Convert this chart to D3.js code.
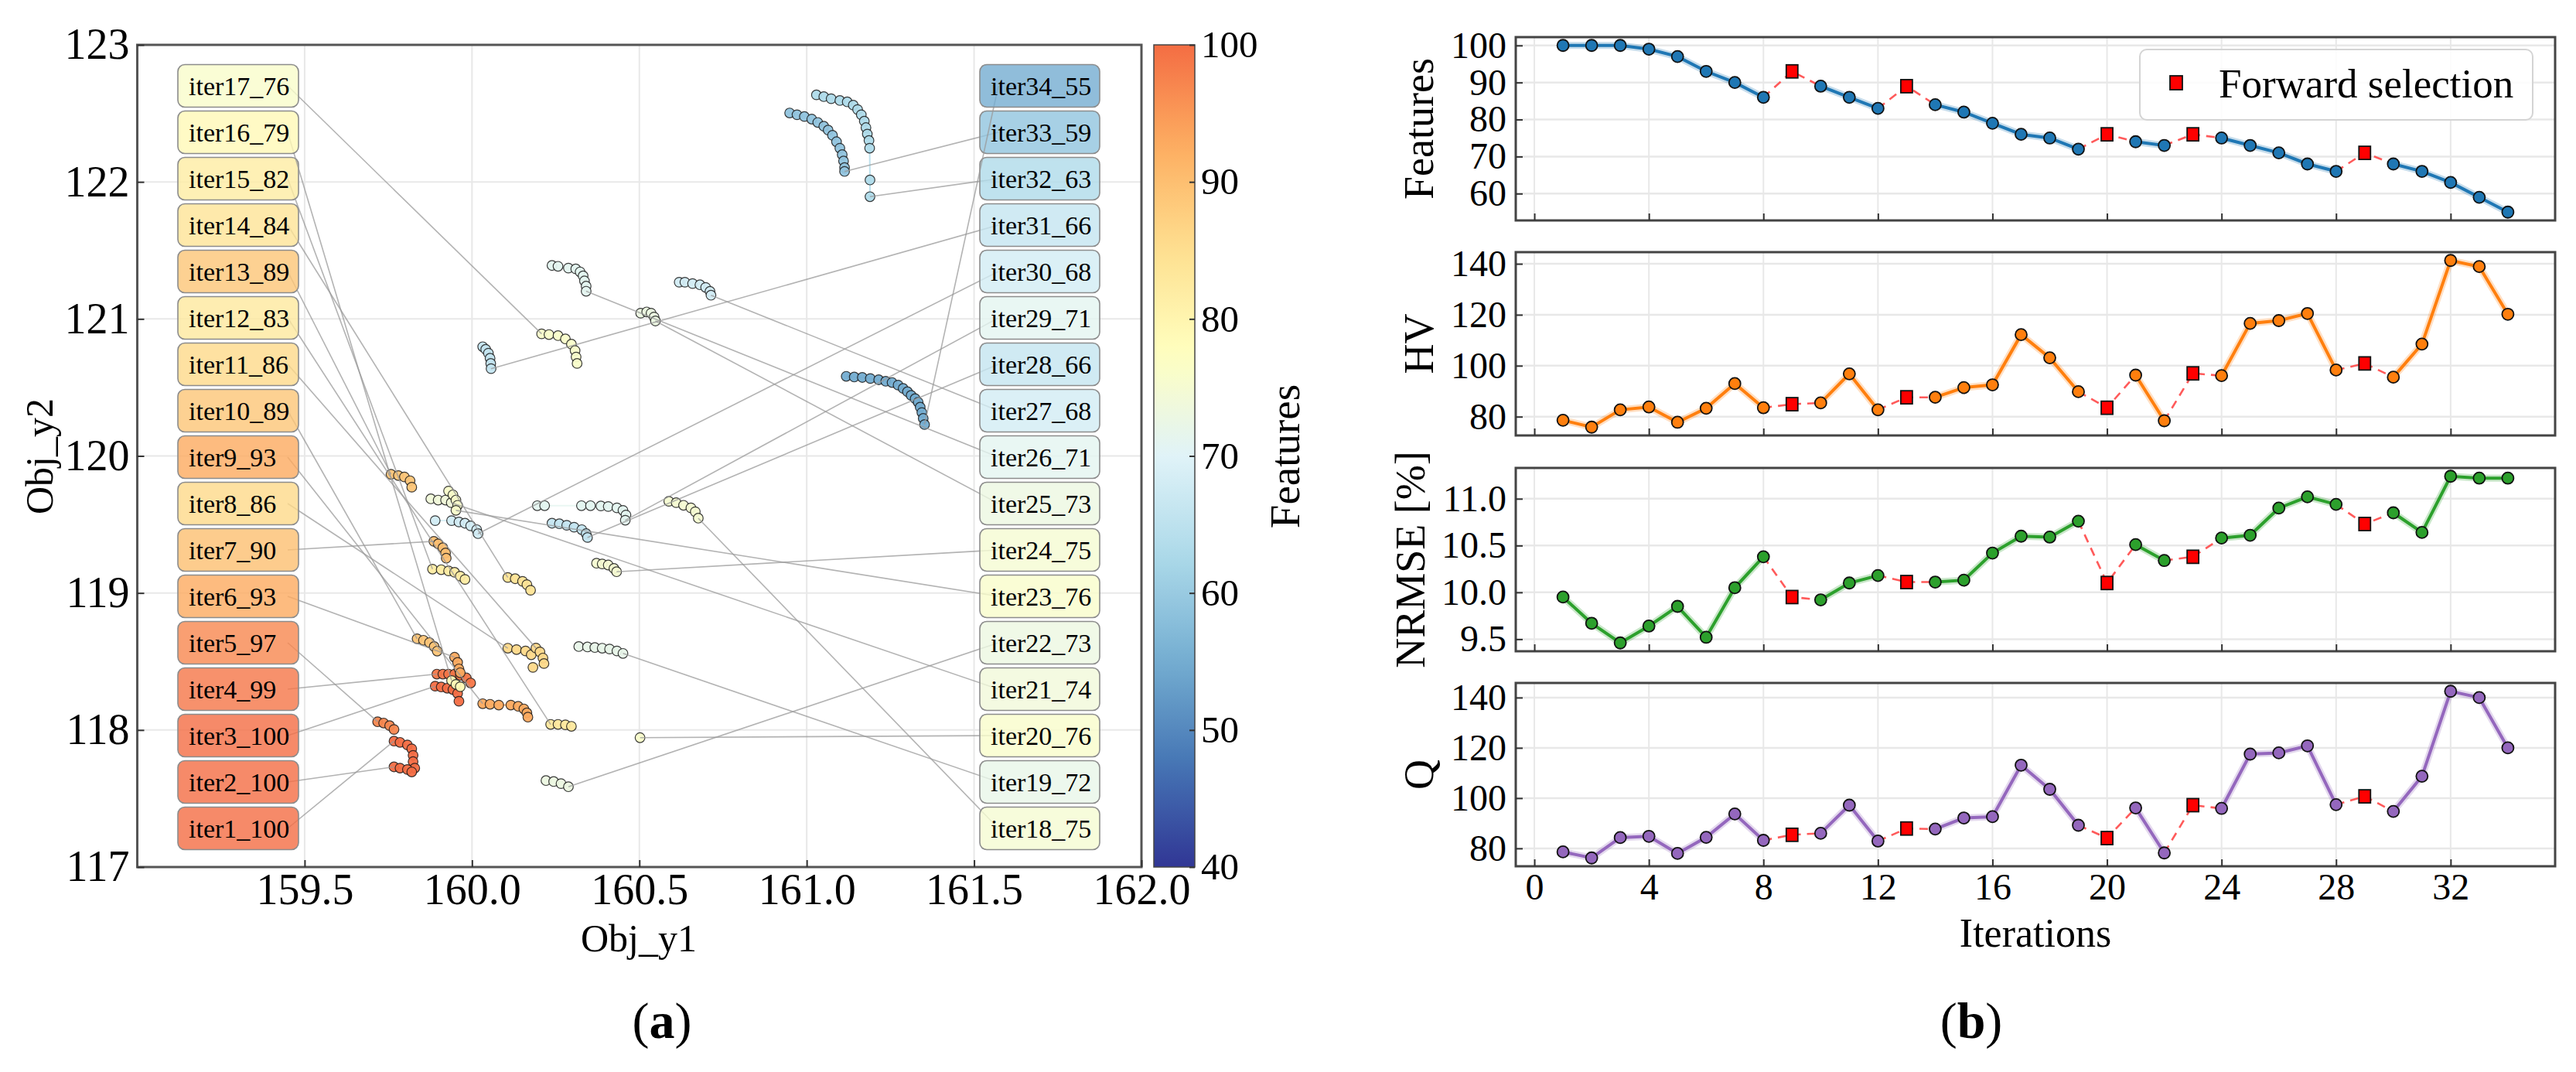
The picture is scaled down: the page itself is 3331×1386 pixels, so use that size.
<!DOCTYPE html>
<html>
<head>
<meta charset="utf-8">
<title>Pareto fronts and selection metrics per iteration</title>
<script src="https://cdn.jsdelivr.net/npm/d3@7"></script>
<style>
  body { margin: 0; background: #fff; }
  text { font-family: "Liberation Serif", "Times New Roman", serif; }
</style>
</head>
<body>
<svg id="chart" width="3331" height="1386"></svg>
<script>
// ---------- data ----------
const iterNo = [1,2,3,4,5,6,7,8,9,10,11,12,13,14,15,16,17,18,19,20,21,22,23,24,25,26,27,28,29,30,31,32,33,34];
const featureCount = [100,100,100,99,97,93,90,86,93,89,86,83,89,84,82,79,76,75,72,76,74,73,76,75,73,71,68,66,71,68,66,63,59,55];
const forwardIters = [9,13,20,23,29];
const hvValues = [78.6,75.9,82.7,83.8,77.8,83.3,93.0,83.5,84.9,85.4,96.8,82.7,87.6,87.6,91.4,92.5,112.2,103.1,89.8,83.5,96.3,78.4,97.0,96.1,116.6,117.7,120.5,98.3,100.9,95.5,108.5,141.3,138.9,120.2];
const nrmseValues = [9.95,9.67,9.46,9.64,9.85,9.52,10.05,10.38,9.95,9.92,10.10,10.18,10.11,10.11,10.13,10.42,10.60,10.59,10.76,10.10,10.51,10.34,10.38,10.58,10.61,10.90,11.02,10.94,10.73,10.85,10.64,11.24,11.22,11.22];
const qValues = [78.6,76.2,84.3,84.8,78.0,84.4,93.7,83.2,85.4,86.0,97.2,82.9,87.9,87.7,92.1,92.6,113.1,103.5,89.2,84.1,96.1,78.2,97.2,95.9,117.5,118.0,120.8,97.4,100.7,94.7,108.7,142.5,140.0,120.0];

// pareto front of each iteration: [Obj_y1, Obj_y2]
const front01 = [[159.767,117.919],[159.785,117.910],[159.807,117.891],[159.820,117.863],[159.824,117.815],[159.824,117.769],[159.829,117.722]];
const front02 = [[159.767,117.731],[159.785,117.722],[159.807,117.712],[159.820,117.694]];
const front03 = [[159.890,118.320],[159.908,118.314],[159.926,118.305],[159.943,118.295],[159.957,118.267],[159.961,118.210]];
const front04 = [[159.895,118.408],[159.913,118.408],[159.930,118.408],[159.948,118.408],[159.965,118.399],[159.983,118.380],[159.996,118.343]];
const front05 = [[159.718,118.060],[159.736,118.051],[159.754,118.032],[159.767,118.004]];
const front06 = [[159.948,118.531],[159.957,118.493],[159.961,118.446],[159.965,118.418]];
const front07 = [[159.886,119.377],[159.899,119.358],[159.913,119.330],[159.921,119.292],[159.923,119.254]];
const front08 = [[160.107,118.597],[160.133,118.587],[160.160,118.577],[160.177,118.549]];
const front09 = [[160.032,118.192],[160.054,118.188],[160.080,118.182],[160.116,118.182],[160.138,118.173],[160.155,118.154],[160.164,118.125],[160.167,118.094]];
const front10 = [[159.836,118.666],[159.855,118.655],[159.873,118.638],[159.887,118.609],[159.896,118.576]];
const front11 = [[160.191,118.598],[160.203,118.570],[160.212,118.525],[160.215,118.485],[160.182,118.457]];
const front12 = [[160.235,118.041],[160.257,118.041],[160.279,118.038],[160.297,118.027]];
const front13 = [[159.758,119.866],[159.780,119.857],[159.798,119.847],[159.815,119.819],[159.820,119.772]];
const front14 = [[160.107,119.113],[160.129,119.104],[160.151,119.085],[160.164,119.061],[160.175,119.020]];
const front15 = [[159.882,119.174],[159.908,119.170],[159.930,119.161],[159.948,119.151],[159.965,119.123],[159.979,119.099]];
const front16 = [[159.939,118.361],[159.952,118.333],[159.965,118.316]];
const front17 = [[160.208,120.891],[160.230,120.886],[160.257,120.878],[160.279,120.854],[160.297,120.816],[160.308,120.769],[160.311,120.722],[160.314,120.675]];
const front18 = [[160.588,119.669],[160.610,119.659],[160.632,119.640],[160.654,119.621],[160.667,119.593],[160.676,119.546]];
const front19 = [[160.319,118.609],[160.345,118.606],[160.367,118.602],[160.389,118.597],[160.411,118.591],[160.433,118.577],[160.451,118.559]];
const front20 = [[160.502,117.944]];
const front21 = [[159.877,119.687],[159.899,119.678],[159.921,119.678],[159.938,119.659]];
const front22 = [[160.221,117.631],[160.244,117.624],[160.266,117.609],[160.288,117.586]];
const front23 = [[159.930,119.744],[159.943,119.716],[159.952,119.678],[159.957,119.640],[159.952,119.603]];
const front24 = [[160.372,119.217],[160.389,119.212],[160.407,119.204],[160.424,119.179],[160.432,119.155]];
const front25 = [[160.504,121.042],[160.522,121.051],[160.535,121.042],[160.544,121.014],[160.548,120.985]];
const front26 = [[160.239,121.390],[160.257,121.384],[160.288,121.371],[160.310,121.365],[160.323,121.343],[160.332,121.314],[160.336,121.277],[160.341,121.239],[160.341,121.202]];
const front27 = [[160.619,121.268],[160.636,121.268],[160.659,121.258],[160.681,121.249],[160.698,121.230],[160.711,121.201],[160.714,121.173]];
const front28 = [[160.239,119.509],[160.261,119.505],[160.283,119.494],[160.305,119.480],[160.328,119.462],[160.341,119.433],[160.345,119.405]];
const front29 = [[160.195,119.637],[160.217,119.637],[160.327,119.637],[160.354,119.637],[160.385,119.635],[160.407,119.631],[160.433,119.621],[160.451,119.603],[160.460,119.569],[160.458,119.531]];
const front30 = [[159.890,119.528],[159.939,119.528],[159.961,119.518],[159.979,119.509],[159.996,119.490],[160.014,119.462],[160.018,119.433]];
const front31 = [[160.032,120.797],[160.041,120.778],[160.049,120.750],[160.054,120.713],[160.056,120.675],[160.057,120.637]];
const front32 = [[161.029,122.635],[161.051,122.622],[161.073,122.607],[161.099,122.594],[161.121,122.584],[161.139,122.560],[161.152,122.528],[161.163,122.490],[161.172,122.443],[161.177,122.396],[161.181,122.349],[161.186,122.302],[161.188,122.246],[161.189,122.014],[161.189,121.892]];
const front33 = [[160.949,122.503],[160.971,122.490],[160.993,122.477],[161.015,122.458],[161.033,122.434],[161.051,122.406],[161.064,122.378],[161.077,122.340],[161.089,122.293],[161.099,122.246],[161.106,122.199],[161.110,122.152],[161.113,122.104],[161.113,122.076]];
const front34 = [[161.118,120.581],[161.142,120.576],[161.166,120.573],[161.190,120.565],[161.215,120.556],[161.236,120.545],[161.255,120.536],[161.273,120.517],[161.288,120.493],[161.301,120.469],[161.312,120.442],[161.324,120.418],[161.333,120.392],[161.339,120.356],[161.344,120.317],[161.348,120.274],[161.352,120.229]];

const obj1Ticks = [159.5,160.0,160.5,161.0,161.5,162.0];
const obj2Ticks = [117,118,119,120,121,122,123];
const cbarTicks = [40,50,60,70,80,90,100];
const iterTicks = [0,4,8,12,16,20,24,28,32];
const featTicks = [60,70,80,90,100];
const hvTicks = [80,100,120,140];
const nrmseTicks = [9.5,10.0,10.5,11.0];
const qTicks = [80,100,120,140];

const fronts = [front01,front02,front03,front04,front05,front06,front07,front08,front09,front10,front11,front12,
  front13,front14,front15,front16,front17,front18,front19,front20,front21,front22,front23,front24,front25,
  front26,front27,front28,front29,front30,front31,front32,front33,front34];

// ---------- helpers ----------
const FONT = '"Liberation Serif", "Times New Roman", serif';
const svg = d3.select('#chart');

// RdYlBu reversed, using the part from 0 to 0.8
const cmapColors = ['#313695','#4575b4','#74add1','#abd9e9','#e0f3f8','#ffffbf','#fee090','#fdae61','#f46d43'];
const featColor = d3.scaleLinear()
  .domain(cmapColors.map((c, i) => 40 + i * 60 / (cmapColors.length - 1)))
  .range(cmapColors)
  .interpolate(d3.interpolateRgb)
  .clamp(true);

function styleAxis(g, size) {
  g.attr('font-family', FONT).attr('font-size', size);
  g.select('.domain').remove();
  g.selectAll('.tick line').attr('stroke', '#333').attr('stroke-width', 2);
  g.selectAll('.tick text').attr('fill', '#000');
}

// ================= (a) scatter of fronts =================
const xL = d3.scaleLinear().domain([159, 162]).range([177.5, 1476]);
const yL = d3.scaleLinear().domain([117, 123]).range([1121, 58]);
const gA = svg.append('g');

gA.selectAll('.vgrid').data(obj1Ticks).join('line')
  .attr('x1', d => xL(d)).attr('x2', d => xL(d))
  .attr('y1', yL.range()[0]).attr('y2', yL.range()[1])
  .attr('stroke', '#e8e8e8').attr('stroke-width', 2);
gA.selectAll('.hgrid').data(obj2Ticks).join('line')
  .attr('x1', xL.range()[0]).attr('x2', xL.range()[1])
  .attr('y1', d => yL(d)).attr('y2', d => yL(d))
  .attr('stroke', '#e8e8e8').attr('stroke-width', 2);

const frontLine = d3.line().x(d => xL(d[0])).y(d => yL(d[1]));
fronts.forEach((pts, i) => {
  const c = featColor(featureCount[i]);
  gA.append('path').datum(pts).attr('d', frontLine)
    .attr('fill', 'none').attr('stroke', c).attr('stroke-width', 2).attr('opacity', 0.8);
  gA.append('g').selectAll('circle').data(pts).join('circle')
    .attr('cx', d => xL(d[0])).attr('cy', d => yL(d[1])).attr('r', 6.3)
    .attr('fill', c).attr('fill-opacity', 0.95)
    .attr('stroke', '#1a1a1a').attr('stroke-width', 1.2).attr('stroke-opacity', 0.85);
});

// label boxes with leader lines
iterNo.forEach((it, i) => {
  const left = it <= 17;
  const slot = left ? 17 - it : 34 - it;
  const cy = 111 + slot * 60;
  const bx = left ? 230 : 1267;
  const bw = left ? 156 : 155;
  const pts = fronts[i];
  const tgt = left ? pts[0] : pts[pts.length - 1];
  gA.append('line')
    .attr('x1', left ? bx + bw - 14 : bx + 24).attr('y1', cy)
    .attr('x2', xL(tgt[0])).attr('y2', yL(tgt[1]))
    .attr('stroke', '#9a9a9a').attr('stroke-width', 1.6).attr('opacity', 0.75);
  gA.append('rect')
    .attr('x', bx).attr('y', cy - 27.5).attr('width', bw).attr('height', 55).attr('rx', 9)
    .attr('fill', featColor(featureCount[i])).attr('fill-opacity', 0.8)
    .attr('stroke', '#8c8c8c').attr('stroke-width', 1.6);
  gA.append('text')
    .attr('x', bx + 14).attr('y', cy).attr('dy', '0.35em')
    .attr('font-size', 34).attr('fill', '#000')
    .text(`iter${it}_${featureCount[i]}`);
});

gA.append('rect')
  .attr('x', xL.range()[0]).attr('y', yL.range()[1])
  .attr('width', xL.range()[1] - xL.range()[0]).attr('height', yL.range()[0] - yL.range()[1])
  .attr('fill', 'none').attr('stroke', '#555').attr('stroke-width', 3);

gA.append('g').attr('transform', `translate(0,${yL.range()[0]})`)
  .call(d3.axisBottom(xL).tickValues(obj1Ticks).tickFormat(d3.format('.1f')).tickSize(-9).tickPadding(8))
  .call(g => styleAxis(g, 56));
gA.append('g').attr('transform', `translate(${xL.range()[0]},0)`)
  .call(d3.axisLeft(yL).tickValues(obj2Ticks).tickFormat(d3.format('d')).tickSize(-9).tickPadding(10))
  .call(g => styleAxis(g, 56));

gA.append('text').attr('x', 826).attr('y', 1230).attr('text-anchor', 'middle')
  .attr('font-size', 50).text('Obj_y1');
gA.append('text').attr('transform', 'translate(68,590) rotate(-90)').attr('text-anchor', 'middle')
  .attr('font-size', 50).text('Obj_y2');

// colorbar
const cb = d3.scaleLinear().domain([40, 100]).range([1121, 58]);
const grad = svg.append('defs').append('linearGradient').attr('id', 'cbGrad')
  .attr('x1', 0).attr('y1', 1).attr('x2', 0).attr('y2', 0);
grad.selectAll('stop').data(d3.range(0, 61, 2)).join('stop')
  .attr('offset', d => d / 60).attr('stop-color', d => featColor(40 + d));
gA.append('rect').attr('x', 1492).attr('y', 58).attr('width', 53).attr('height', 1063)
  .attr('fill', 'url(#cbGrad)').attr('stroke', '#444').attr('stroke-width', 1.5);
gA.append('g').attr('transform', 'translate(1545,0)')
  .call(d3.axisRight(cb).tickValues(cbarTicks).tickFormat(d3.format('d')).tickSize(-7).tickPadding(8))
  .call(g => styleAxis(g, 49));
gA.append('text').attr('transform', 'translate(1680,590) rotate(-90)').attr('text-anchor', 'middle')
  .attr('font-size', 55).text('Features');

// ================= (b) metrics per iteration =================
const xR = d3.scaleLinear().domain([-0.65, 35.65]).range([1960, 3304]);
const panels = [
  { vals: featureCount, color: '#1f77b4', label: 'Features', ticks: featTicks, fmt: d3.format('d'), top: 48, bottom: 285, lx: 1853 },
  { vals: hvValues, color: '#ff7f0e', label: 'HV', ticks: hvTicks, fmt: d3.format('d'), top: 326, bottom: 563, lx: 1853 },
  { vals: nrmseValues, color: '#2ca02c', label: 'NRMSE [%]', ticks: nrmseTicks, fmt: d3.format('.1f'), top: 605, bottom: 842, lx: 1842 },
  { vals: qValues, color: '#9467bd', label: 'Q', ticks: qTicks, fmt: d3.format('d'), top: 883, bottom: 1120, lx: 1853 }
];
const isFwd = it => forwardIters.includes(it);

panels.forEach((p, pi) => {
  const [lo, hi] = d3.extent(p.vals);
  const pad = (hi - lo) * 0.05;
  const y = d3.scaleLinear().domain([lo - pad, hi + pad]).range([p.bottom, p.top]);
  const g = svg.append('g');
  const pts = iterNo.map((it, i) => ({ it, v: p.vals[i] }));

  g.selectAll('.vg').data(iterTicks).join('line')
    .attr('x1', d => xR(d)).attr('x2', d => xR(d)).attr('y1', p.top).attr('y2', p.bottom)
    .attr('stroke', '#e8e8e8').attr('stroke-width', 2);
  g.selectAll('.hg').data(p.ticks).join('line')
    .attr('x1', xR.range()[0]).attr('x2', xR.range()[1]).attr('y1', d => y(d)).attr('y2', d => y(d))
    .attr('stroke', '#e8e8e8').attr('stroke-width', 2.5);

  // solid runs between non-forward points
  const line = d3.line().defined(d => !isFwd(d.it)).x(d => xR(d.it)).y(d => y(d.v));
  g.append('path').datum(pts).attr('d', line).attr('fill', 'none')
    .attr('stroke', p.color).attr('stroke-width', 9).attr('stroke-opacity', 0.25);
  g.append('path').datum(pts).attr('d', line).attr('fill', 'none')
    .attr('stroke', p.color).attr('stroke-width', 4);

  // dashed links through forward-selection steps
  pts.forEach((d, i) => {
    if (!isFwd(d.it)) return;
    const seg = pts.slice(Math.max(0, i - 1), i + 2);
    g.append('path').datum(seg)
      .attr('d', d3.line().x(e => xR(e.it)).y(e => y(e.v)))
      .attr('fill', 'none').attr('stroke', '#ff5a5a').attr('stroke-width', 2.6)
      .attr('stroke-dasharray', '11,8');
  });

  g.selectAll('circle').data(pts.filter(d => !isFwd(d.it))).join('circle')
    .attr('cx', d => xR(d.it)).attr('cy', d => y(d.v)).attr('r', 7.5)
    .attr('fill', p.color).attr('stroke', '#111').attr('stroke-width', 1.8);
  g.selectAll('rect.fw').data(pts.filter(d => isFwd(d.it))).join('rect')
    .attr('x', d => xR(d.it) - 7.5).attr('y', d => y(d.v) - 8.5).attr('width', 15).attr('height', 17)
    .attr('fill', '#ff0000').attr('stroke', '#111').attr('stroke-width', 1.8);

  g.append('rect').attr('x', xR.range()[0]).attr('y', p.top)
    .attr('width', xR.range()[1] - xR.range()[0]).attr('height', p.bottom - p.top)
    .attr('fill', 'none').attr('stroke', '#444').attr('stroke-width', 3);

  const last = pi === panels.length - 1;
  g.append('g').attr('transform', `translate(0,${p.bottom})`)
    .call(d3.axisBottom(xR).tickValues(iterTicks).tickFormat(last ? d3.format('d') : () => '').tickSize(-9).tickPadding(9))
    .call(a => styleAxis(a, 48));
  g.append('g').attr('transform', `translate(${xR.range()[0]},0)`)
    .call(d3.axisLeft(y).tickValues(p.ticks).tickFormat(p.fmt).tickSize(-9).tickPadding(12))
    .call(a => styleAxis(a, 48));

  g.append('text').attr('transform', `translate(${p.lx},${(p.top + p.bottom) / 2}) rotate(-90)`)
    .attr('text-anchor', 'middle').attr('font-size', 54).text(p.label);

  if (pi === 0) {
    const lg = g.append('g');
    lg.append('rect').attr('x', 2767).attr('y', 64).attr('width', 508).attr('height', 91).attr('rx', 9)
      .attr('fill', '#fff').attr('fill-opacity', 0.85).attr('stroke', '#d4d4d4').attr('stroke-width', 2);
    lg.append('rect').attr('x', 2806).attr('y', 98).attr('width', 16).attr('height', 18)
      .attr('fill', '#ff0000').attr('stroke', '#111').attr('stroke-width', 1.8);
    lg.append('text').attr('x', 2869).attr('y', 107).attr('dy', '0.35em')
      .attr('font-size', 53).text('Forward selection');
  }
});

svg.append('text').attr('x', 2632).attr('y', 1224).attr('text-anchor', 'middle')
  .attr('font-size', 52).text('Iterations');

// panel captions
[['a', 856], ['b', 2549]].forEach(([s, x]) => {
  const t = svg.append('text').attr('x', x).attr('y', 1342).attr('text-anchor', 'middle').attr('font-size', 66);
  t.append('tspan').text('(');
  t.append('tspan').attr('font-weight', 'bold').text(s);
  t.append('tspan').text(')');
});
</script>
</body>
</html>
